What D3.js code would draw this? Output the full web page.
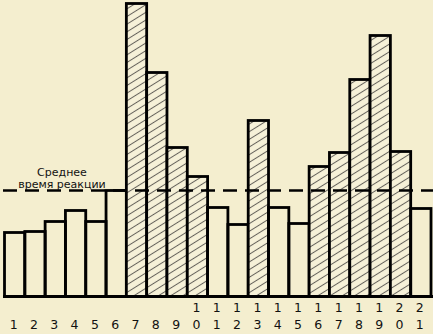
<!DOCTYPE html>
<html>
<head>
<meta charset="utf-8">
<script src="https://cdn.jsdelivr.net/npm/d3@7"></script>
<style>
  html, body { margin: 0; padding: 0; background: #f4eecf; }
  svg { display: block; }
</style>
</head>
<body>
<svg id="chart" width="433" height="334"></svg>
<script>
// Trial numbers, reaction times (arbitrary units) and which trials are shaded
const trials = ["1","2","3","4","5","6","7","8","9","10","11","12","13","14","15","16","17","18","19","20","21"];
const reactionTimes = [64, 65, 75, 86, 75, 106, 293, 224, 149, 120, 89, 72, 176, 89, 73, 130, 144, 217, 261, 145, 88];
const slowTrials = ["7","8","9","10","13","16","17","18","19","20"];
const meanTime = 106;
const meanLabel = ["Среднее", "время реакции"];

const svg = d3.select("#chart");
const W = 433, H = 334;
const baseY = 296.5;

const x = d3.scaleBand().domain(trials).range([4.5, 431]).padding(0);
const y = d3.scaleLinear().domain([0, 293]).range([baseY, 3.5]);

// Diagonal hatching for the slow trials
const defs = svg.append("defs");
const pat = defs.append("pattern")
  .attr("id", "hatch")
  .attr("patternUnits", "userSpaceOnUse")
  .attr("width", 6.5)
  .attr("height", 6.5)
  .attr("patternTransform", "rotate(-32)");
pat.append("rect").attr("width", 6.5).attr("height", 6.5).attr("fill", "#f6f1d8");
pat.append("line")
  .attr("x1", 0).attr("y1", 3.25).attr("x2", 6.5).attr("y2", 3.25)
  .attr("stroke", "#64615a").attr("stroke-width", 1);

svg.append("rect").attr("width", W).attr("height", H).attr("fill", "#f4eecf");

const data = trials.map((t, i) => ({ t, v: reactionTimes[i], slow: slowTrials.includes(t) }));

svg.append("g").selectAll("rect")
  .data(data)
  .join("rect")
  .attr("x", d => x(d.t))
  .attr("y", d => y(d.v))
  .attr("width", x.bandwidth())
  .attr("height", d => y(0) - y(d.v))
  .attr("fill", d => d.slow ? "url(#hatch)" : "none")
  .attr("stroke", "#000")
  .attr("stroke-width", 2.8);

// Baseline
svg.append("line")
  .attr("x1", 3).attr("x2", 433)
  .attr("y1", y(0)).attr("y2", y(0))
  .attr("stroke", "#000").attr("stroke-width", 2.8);

// Mean reaction time line
svg.append("line")
  .attr("x1", 3).attr("x2", 433)
  .attr("y1", y(meanTime)).attr("y2", y(meanTime))
  .attr("stroke", "#000").attr("stroke-width", 2.4)
  .attr("stroke-dasharray", "14,8");

svg.append("text")
  .attr("x", 62).attr("y", 176)
  .attr("text-anchor", "middle")
  .attr("font-family", "DejaVu Sans, Verdana, sans-serif")
  .attr("font-size", 11)
  .attr("fill", "#111")
  .selectAll("tspan")
  .data(meanLabel)
  .join("tspan")
  .attr("x", 62)
  .attr("dy", (d, i) => i === 0 ? 0 : 12)
  .text(d => d);

// Trial numbers under the bars; two-digit numbers are stacked
const labels = svg.append("g")
  .attr("font-family", "DejaVu Sans, Verdana, sans-serif")
  .attr("font-size", 12.5)
  .attr("fill", "#111")
  .attr("text-anchor", "middle");

data.forEach(d => {
  const cx = x(d.t) + x.bandwidth() / 2 - 1;
  const chars = d.t.split("");
  chars.forEach((c, j) => {
    const row = chars.length === 1 ? 1 : j;
    labels.append("text")
      .attr("x", cx)
      .attr("y", 312 + row * 17)
      .text(c);
  });
});
</script>
</body>
</html>
